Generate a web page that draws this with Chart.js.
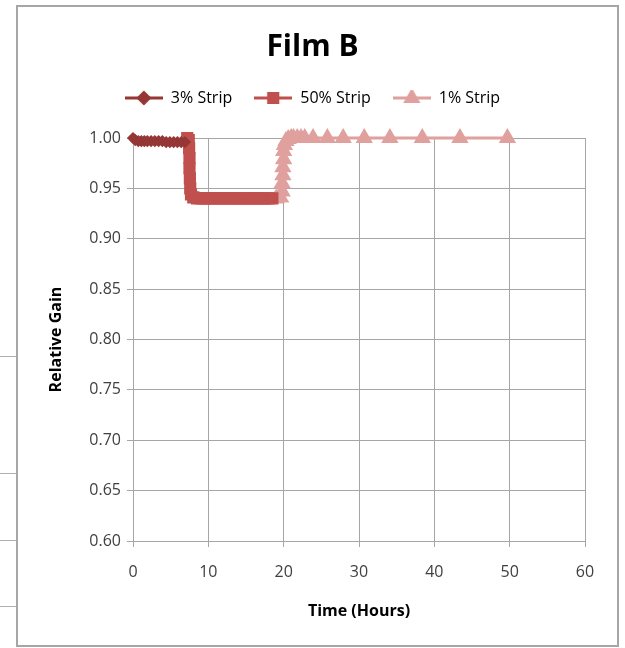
<!DOCTYPE html>
<html>
<head>
<meta charset="utf-8">
<script src="https://cdn.jsdelivr.net/npm/chart.js@4.4.0/dist/chart.umd.min.js"></script>
<style>
  body { margin: 0; background: #fff; }
  #frame { position: absolute; left: 16px; top: 5px; width: 599px; height: 638px; border: 2px solid #a6a6a6; }
  .cell { position: absolute; left: 0; width: 16px; height: 1px; background: #b0b0b0; }
  #wrap { position: absolute; left: 0; top: 0; width: 625px; height: 648px; }
</style>
</head>
<body>
<div class="cell" style="top:356px"></div>
<div class="cell" style="top:473px"></div>
<div class="cell" style="top:540px"></div>
<div class="cell" style="top:606px"></div>
<div id="frame"></div>
<div id="wrap"><canvas id="chart"></canvas></div>
<script>
// Film B - relative gain vs time
var seriesNames = ["3% Strip", "50% Strip", "1% Strip"];

var time3 = [0, 0.3, 0.7, 1.1, 1.5, 1.9, 2.4, 2.9, 3.4, 3.9, 4.4, 4.9, 5.4, 5.9, 6.4, 6.9];
var gain3 = [1.000, 0.998, 0.997, 0.997, 0.997, 0.997, 0.997, 0.997, 0.997, 0.997, 0.996, 0.996, 0.996, 0.996, 0.996, 0.996];

var time50 = [7.2, 7.4, 7.45, 7.5, 7.5, 7.55, 7.6, 7.7, 8.0, 8.5, 9.0, 9.5, 10.0, 10.5, 11.0, 11.5, 12.0, 12.5, 13.0, 13.5, 14.0, 14.5, 15.0, 15.5, 16.0, 16.5, 17.0, 17.5, 18.0, 18.5];
var gain50 = [1.000, 0.998, 0.990, 0.980, 0.970, 0.960, 0.950, 0.944, 0.941, 0.940, 0.940, 0.940, 0.940, 0.940, 0.940, 0.940, 0.940, 0.940, 0.940, 0.940, 0.940, 0.940, 0.940, 0.940, 0.940, 0.940, 0.940, 0.940, 0.940, 0.940];

var time1 = [19.0, 19.6, 19.8, 19.8, 19.9, 19.9, 20.0, 20.0, 20.1, 20.3, 20.6, 21.0, 21.3, 21.8, 22.3, 22.8, 23.9, 25.8, 27.9, 30.7, 34.1, 38.4, 43.4, 49.7];
var gain1 = [0.940, 0.941, 0.947, 0.955, 0.963, 0.971, 0.979, 0.987, 0.993, 0.997, 0.999, 1.000, 1.000, 1.000, 1.000, 1.000, 1.000, 1.000, 1.000, 1.000, 1.000, 1.000, 1.000, 1.000];

var xTicks = [0, 10, 20, 30, 40, 50, 60];
var yTicks = [0.60, 0.65, 0.70, 0.75, 0.80, 0.85, 0.90, 0.95, 1.00];

var colors = ["#953735", "#c0504d", "#dfa09e"];
var styles = ["rectRot", "rect", "triangle"];
var radii = [4, 6.5, 7];

function pts(xs, ys) {
	var out = [];
	for (var i in xs) {
		out.push({x: xs[i], y: ys[i]});
	}
	return out;
}

function legendIcon(color, style, r) {
	var c = document.createElement("canvas");
	c.width = 38;
	c.height = 16;
	var ctx = c.getContext("2d");
	ctx.strokeStyle = color;
	ctx.lineWidth = 3;
	ctx.beginPath();
	ctx.moveTo(0, 8);
	ctx.lineTo(38, 8);
	ctx.stroke();
	ctx.fillStyle = color;
	ctx.strokeStyle = color;
	Chart.helpers.drawPoint(ctx, {pointStyle: style, radius: Math.max(r, 5.5), rotation: 0, borderWidth: 1}, 19, 8);
	return c;
}

var allData = [pts(time3, gain3), pts(time50, gain50), pts(time1, gain1)];
var datasets = [];
for (var k = 0; k < 3; k++) {
	datasets.push({
		label: seriesNames[k],
		data: allData[k],
		borderColor: colors[k],
		backgroundColor: colors[k],
		pointBackgroundColor: colors[k],
		pointBorderColor: colors[k],
		pointStyle: styles[k],
		pointRadius: radii[k],
		borderWidth: 3,
		tension: 0.3,
		fill: false,
		clip: false
	});
}

// extra space under legend
var legendGap = {
	id: "legendGap",
	beforeInit: function(chart) {
		var fit = chart.legend.fit;
		chart.legend.fit = function() {
			fit.bind(chart.legend)();
			this.height += 22;
		};
	}
};

var ctx = document.getElementById("chart");
var chart = new Chart(ctx, {
	type: "line",
	data: {datasets: datasets},
	plugins: [legendGap],
	options: {
		responsive: true,
		maintainAspectRatio: false,
		animation: false,
		layout: {padding: {left: 40, right: 40, top: 15, bottom: 25}},
		plugins: {
			title: {
				display: true,
				text: "Film B",
				color: "#000",
				font: {family: "Open Sans", size: 30, weight: "bold"},
				padding: {top: 14, bottom: 3}
			},
			legend: {
				display: true,
				labels: {
					color: "#000",
					font: {family: "Open Sans", size: 16},
					usePointStyle: true,
					pointStyleWidth: 38,
					padding: 22,
					generateLabels: function(chart) {
						return chart.data.datasets.map(function(ds, i) {
							return {
								text: ds.label,
								pointStyle: legendIcon(colors[i], styles[i], radii[i]),
								fillStyle: colors[i],
								strokeStyle: colors[i],
								lineWidth: 0,
								datasetIndex: i
							};
						});
					}
				}
			},
			tooltip: {enabled: false}
		},
		scales: {
			x: {
				type: "linear",
				min: 0,
				max: 60,
				afterBuildTicks: function(scale) {
					scale.ticks = xTicks.map(function(v) { return {value: v}; });
				},
				afterFit: function(scale) { scale.height = 82; },
				grid: {color: "#a6a6a6", tickLength: 6},
				border: {color: "#a6a6a6"},
				ticks: {color: "#404040", font: {family: "Open Sans", size: 16}, padding: 16, maxRotation: 0},
				title: {display: true, text: "Time (Hours)", color: "#000", font: {family: "Open Sans", size: 16, weight: "bold"}, padding: {top: 4, bottom: 2}}
			},
			y: {
				min: 0.6,
				max: 1.0,
				afterBuildTicks: function(scale) {
					scale.ticks = yTicks.map(function(v) { return {value: v}; });
				},
				afterFit: function(scale) { scale.width = 93; },
				grid: {color: "#a6a6a6", tickLength: 6},
				border: {color: "#a6a6a6"},
				ticks: {
					color: "#404040",
					font: {family: "Open Sans", size: 16},
					padding: 6,
					callback: function(v) { return Number(v).toFixed(2); }
				},
				title: {display: true, text: "Relative Gain", color: "#000", font: {family: "Open Sans", size: 16, weight: "bold"}, padding: {top: 7, bottom: 4}}
			}
		}
	}
});
</script>
</body>
</html>
